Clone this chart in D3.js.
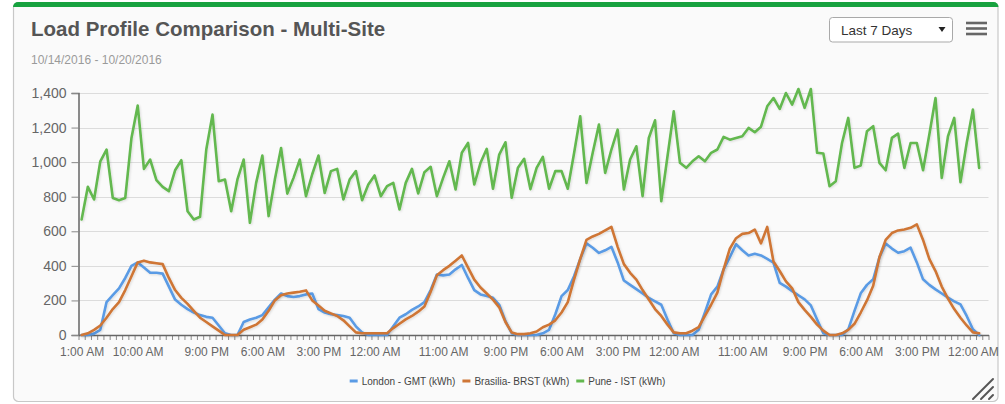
<!DOCTYPE html>
<html><head><meta charset="utf-8">
<script src="https://cdn.jsdelivr.net/npm/d3@7"></script>
<style>
html,body{margin:0;padding:0;background:#fff;}
svg{display:block;font-family:"Liberation Sans",Arial,Helvetica,sans-serif;}
</style></head><body>
<svg id="chart" width="1005" height="404"></svg>
<script>
// Hourly load readings (kWh), one value per hour starting 10/14/2016 1:00 AM
const london = [0,0,8,30,190,230,270,330,400,420,390,360,360,355,280,205,175,150,130,115,105,100,55,10,0,0,75,90,100,115,160,205,240,225,220,225,235,240,150,130,120,115,110,100,50,15,0,0,0,0,50,100,120,145,165,190,260,350,345,350,380,405,330,260,235,225,215,175,80,10,0,0,0,0,10,30,120,225,260,340,440,530,505,475,490,510,420,315,290,265,240,215,195,175,90,10,0,0,0,30,130,235,280,380,450,525,490,460,470,460,440,418,302,280,254,230,206,171,90,10,0,0,0,33,140,241,290,322,449,530,500,476,485,505,420,322,290,264,240,216,195,177,110,33,0];
const brasilia = [0,10,30,55,100,150,190,260,340,420,430,420,415,410,330,260,215,180,140,100,75,50,25,0,0,0,30,45,60,90,140,200,230,240,245,250,258,200,170,140,125,110,85,50,15,10,10,10,10,10,40,65,90,110,135,165,250,345,375,400,430,460,390,320,275,240,205,160,75,15,5,5,10,20,45,60,85,130,190,320,440,550,570,585,605,625,510,410,360,320,260,205,150,110,60,15,10,10,25,45,110,175,245,380,500,560,585,590,610,530,625,425,370,310,270,190,145,105,60,25,0,0,10,30,65,130,200,285,450,550,590,605,610,620,640,550,440,370,280,210,150,100,55,15,10];
const pune = [668,857,784,1005,1073,793,780,793,1140,1327,961,1015,896,857,832,953,1011,716,668,684,1073,1275,890,899,716,900,1015,649,880,1038,688,899,1082,818,909,1015,803,930,1038,822,948,961,784,899,948,780,871,923,803,861,880,726,880,961,819,942,973,803,909,1005,842,1054,1111,871,996,1077,846,1044,1115,794,967,1019,844,967,1030,846,948,948,846,1050,1265,880,1054,1217,938,1073,1188,842,1015,1092,803,1140,1242,774,1034,1294,996,967,1005,1034,1005,1054,1073,1146,1130,1140,1150,1198,1173,1205,1323,1371,1308,1400,1333,1423,1314,1423,1054,1050,861,890,1111,1256,967,980,1179,1208,996,953,1140,1165,967,1111,1111,953,1159,1371,909,1150,1256,884,1111,1304,967];

const categoryCount = 146;
const tickIndex = [0,9,20,29,38,47,58,68,77,86,95,106,116,125,134,143];
const tickLabels = ["1:00 AM","10:00 AM","9:00 PM","6:00 AM","3:00 PM","12:00 AM","11:00 AM","9:00 PM","6:00 AM","3:00 PM","12:00 AM","11:00 AM","9:00 PM","6:00 AM","3:00 PM","12:00 AM"];
const yTicks = [0,200,400,600,800,1000,1200,1400];
const seriesNames = ["London - GMT (kWh)","Brasilia- BRST (kWh)","Pune - IST (kWh)"];
const seriesColors = ["#5a9be5","#cf7636","#63b84f"];
const seriesData = [london, brasilia, pune];

const svg = d3.select("#chart");

// ---- card frame ----
const defs = svg.append("defs");
defs.append("clipPath").attr("id","cardClip")
  .append("rect").attr("x",13).attr("y",2).attr("width",985.5).attr("height",400).attr("rx",5);
const shadow = defs.append("filter").attr("id","lineShadow")
  .attr("x","-5%").attr("y","-5%").attr("width","110%").attr("height","120%");
shadow.append("feDropShadow").attr("dx",1).attr("dy",1).attr("stdDeviation",1)
  .attr("flood-color","#000").attr("flood-opacity",0.12);

svg.append("rect").attr("x",13.5).attr("y",2.5).attr("width",984.5).attr("height",399)
  .attr("rx",5).attr("fill","#fafafa").attr("stroke","#c8c8c8").attr("stroke-width",1.2);
svg.append("rect").attr("x",13).attr("y",2).attr("width",986).attr("height",5)
  .attr("fill","#17a23f").attr("clip-path","url(#cardClip)");

// ---- header ----
svg.append("text").attr("x",31).attr("y",35.5)
  .attr("font-size",20.5).attr("font-weight","bold").attr("fill","#555")
  .text("Load Profile Comparison - Multi-Site");
svg.append("text").attr("x",31).attr("y",63.5)
  .attr("font-size",12).attr("fill","#9a9a9a")
  .text("10/14/2016 - 10/20/2016");

// period selector
svg.append("rect").attr("x",829.5).attr("y",17.5).attr("width",123).attr("height",24.5)
  .attr("rx",3).attr("fill","#fff").attr("stroke","#a9a9a9");
svg.append("text").attr("x",841).attr("y",34.5).attr("font-size",13.5).attr("fill","#333")
  .text("Last 7 Days");
svg.append("path").attr("d","M938.5,27 L945.5,27 L942,32 Z").attr("fill","#222");

// menu icon
[23,28.5,34].forEach(y => {
  svg.append("rect").attr("x",966).attr("y",y-1.3).attr("width",21).attr("height",2.6)
    .attr("fill","#666");
});

// ---- scales ----
const plotLeft = 78.5, plotRight = 988.5, plotTop = 93, plotBottom = 335;
const x = d3.scaleLinear().domain([-0.5, categoryCount - 0.5]).range([plotLeft, plotRight]);
const y = d3.scaleLinear().domain([0, 1400]).range([plotBottom, plotTop]);

// grid lines
svg.append("g").selectAll("line").data(yTicks.filter(d => d > 0)).join("line")
  .attr("x1",plotLeft).attr("x2",plotRight)
  .attr("y1",d => Math.round(y(d)) + 0.5).attr("y2",d => Math.round(y(d)) + 0.5)
  .attr("stroke","#dcdcdc").attr("stroke-width",1);

// y axis
const yAxis = svg.append("g").attr("transform",`translate(${plotLeft},0)`)
  .call(d3.axisLeft(y).tickValues(yTicks).tickSize(7).tickPadding(5).tickFormat(d3.format(",")));
yAxis.select(".domain").attr("stroke","#666").attr("stroke-width",1.5);
yAxis.selectAll(".tick line").attr("stroke","#888");
yAxis.selectAll(".tick text").attr("font-size",14).attr("fill","#666")
  .attr("font-family","Liberation Sans, Arial, sans-serif");

// x axis: minor tick at every hour boundary, labels at selected hours
const xMinor = svg.append("g").attr("transform",`translate(0,${plotBottom})`)
  .call(d3.axisBottom(x).tickValues(d3.range(-0.5, categoryCount, 1)).tickSize(5).tickFormat(""));
xMinor.select(".domain").remove();
xMinor.selectAll(".tick line").attr("stroke","#8a8a8a");

const xAxis = svg.append("g").attr("transform",`translate(0,${plotBottom})`)
  .call(d3.axisBottom(x).tickValues(tickIndex).tickSize(0).tickPadding(12)
    .tickFormat((d,i) => tickLabels[i]));
xAxis.select(".domain").attr("stroke","#666").attr("stroke-width",1.5);
xAxis.selectAll(".tick text").attr("font-size",12).attr("fill","#666")
  .attr("font-family","Liberation Sans, Arial, sans-serif");

// ---- series lines ----
const line = d3.line().x((d,i) => x(i)).y(d => y(d)).curve(d3.curveLinear);
const order = [2, 1, 0];
order.forEach(k => {
  svg.append("path").datum(seriesData[k])
    .attr("d", line).attr("fill","none")
    .attr("stroke", seriesColors[k]).attr("stroke-width", 2.6)
    .attr("stroke-linejoin","round").attr("stroke-linecap","round")
    .attr("filter","url(#lineShadow)");
});
// keep London drawn beneath Brasilia as in the legend order
svg.selectAll("path").filter(function(){ return d3.select(this).attr("stroke") === seriesColors[1]; }).raise();

// ---- legend ----
const legend = svg.append("g");
let cursor = 0;
const items = seriesNames.map((name, i) => {
  const g = legend.append("g");
  g.append("line").attr("x1",0).attr("x2",8).attr("y1",0).attr("y2",0)
    .attr("stroke",seriesColors[i]).attr("stroke-width",3);
  const t = g.append("text").attr("x",12).attr("y",3.5).attr("font-size",10).attr("fill","#444").text(name);
  const w = 12 + t.node().getComputedTextLength();
  g.attr("transform",`translate(${cursor},0)`);
  cursor += w + 7;
  return g;
});
const legendWidth = cursor - 7;
legend.attr("transform",`translate(${507.5 - legendWidth/2},381)`);

// ---- resize grip ----
const grip = svg.append("g").attr("stroke","#555").attr("stroke-width",2).attr("stroke-linecap","round");
grip.append("line").attr("x1",973).attr("y1",399).attr("x2",993).attr("y2",379);
grip.append("line").attr("x1",981).attr("y1",399).attr("x2",993).attr("y2",387);
grip.append("line").attr("x1",989).attr("y1",399).attr("x2",993).attr("y2",395);
</script>
</body></html>
